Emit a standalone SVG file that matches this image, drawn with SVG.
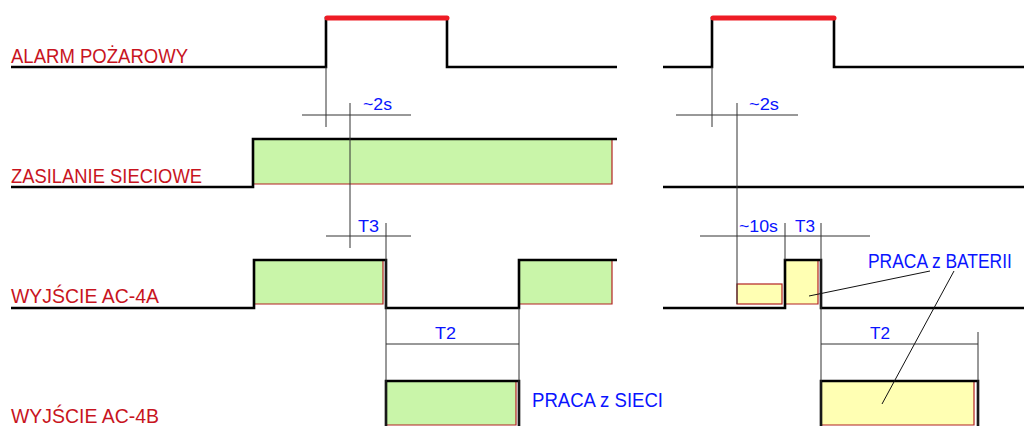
<svg xmlns="http://www.w3.org/2000/svg" width="1024" height="426" viewBox="0 0 1024 426">
<style>
.sig{fill:none;stroke:#000;stroke-width:2.6;stroke-linejoin:miter;stroke-linecap:butt}
.alarm{fill:none;stroke:#ee1c25;stroke-width:5;stroke-linecap:round}
.dim{fill:none;stroke:#333;stroke-width:1}
.lead{fill:none;stroke:#111;stroke-width:1}
.green{fill:#c9f5a9;stroke:none}
.yellow{fill:#ffffb3;stroke:none}
.edge{fill:none;stroke:#b22222;stroke-width:1.2}
.lbl{font-family:"Liberation Sans",Arial,sans-serif;font-size:21px;fill:#c8141e}
.blue{font-family:"Liberation Sans",Arial,sans-serif;font-size:17px;fill:#0a14ff}
.blueL{font-family:"Liberation Sans",Arial,sans-serif;font-size:21px;fill:#0a14ff}
</style>
<rect width="1024" height="426" fill="#fff"/>

<g id="alarm">
<text class="lbl" x="11" y="63" textLength="177" lengthAdjust="spacingAndGlyphs">ALARM POŻAROWY</text>
<polyline class="sig" points="11,67 326,67 326,18 447,18 447,67 617,67"/>
<line class="alarm" x1="327" y1="18" x2="447" y2="18"/>
<polyline class="sig" points="663,67 712,67 712,18 834,18 834,67 1024,67"/>
<line class="alarm" x1="713" y1="18" x2="834" y2="18"/>
</g>

<g id="zasilanie">
<text class="lbl" x="11" y="183" textLength="191" lengthAdjust="spacingAndGlyphs">ZASILANIE SIECIOWE</text>
<rect class="green" x="253" y="139" width="359" height="45"/>
<polyline class="edge" points="253,184 612,184 612,139"/>
<polyline class="sig" points="11,187 253,187 253,139 617,139"/>
<line class="sig" x1="663" y1="187" x2="1024" y2="187"/>
</g>

<g id="ac4a">
<text class="lbl" x="11" y="303" textLength="148" lengthAdjust="spacingAndGlyphs">WYJŚCIE AC-4A</text>
<rect class="green" x="254" y="260" width="129" height="44"/>
<polyline class="edge" points="254,304 383,304 383,260"/>
<rect class="green" x="519" y="260" width="93" height="44"/>
<polyline class="edge" points="519,304 612,304 612,260"/>
<polyline class="sig" points="11,308 254,308 254,260 386,260 386,308 519,308 519,260 617,260"/>
<rect class="yellow" x="737" y="284" width="45" height="20"/>
<rect class="edge" x="737" y="284" width="45" height="20"/>
<rect class="yellow" x="785" y="260" width="33" height="44"/>
<polyline class="edge" points="785,304 818,304 818,260"/>
<polyline class="sig" points="663,308 785,308 785,260 821,260 821,308 1024,308"/>
</g>

<g id="ac4b">
<text class="lbl" x="11" y="423" textLength="148" lengthAdjust="spacingAndGlyphs">WYJŚCIE AC-4B</text>
<rect class="green" x="386" y="381" width="130" height="44"/>
<polyline class="edge" points="386,425 516,425 516,381"/>
<polyline class="sig" points="386,428 386,381 519,381 519,428"/>
<rect class="yellow" x="821" y="381" width="153" height="44"/>
<polyline class="edge" points="821,425 974,425 974,381"/>
<polyline class="sig" points="821,428 821,381 978,381 978,428"/>
</g>

<g id="connectors">
<line class="dim" x1="326" y1="67" x2="326" y2="127"/>
<line class="dim" x1="302" y1="115" x2="411" y2="115"/>
<line class="dim" x1="350" y1="103" x2="350" y2="248"/>
<line class="dim" x1="326" y1="236" x2="411" y2="236"/>
<line class="dim" x1="386" y1="223" x2="386" y2="426"/>
<line class="dim" x1="386" y1="344" x2="519" y2="344"/>
<line class="dim" x1="519" y1="308" x2="519" y2="426"/>

<line class="dim" x1="712" y1="67" x2="712" y2="127"/>
<line class="dim" x1="676" y1="115" x2="798" y2="115"/>
<line class="dim" x1="737" y1="103" x2="737" y2="304"/>
<line class="dim" x1="700" y1="236" x2="870" y2="236"/>
<line class="dim" x1="785" y1="223" x2="785" y2="260"/>
<line class="dim" x1="821" y1="223" x2="821" y2="426"/>
<line class="dim" x1="821" y1="344" x2="978" y2="344"/>
<line class="dim" x1="978" y1="332" x2="978" y2="426"/>

<line class="lead" x1="809" y1="296" x2="930" y2="271"/>
<line class="lead" x1="954" y1="271" x2="882" y2="404"/>
</g>

<g id="labels">
<text class="blue" x="363" y="110" textLength="29" lengthAdjust="spacingAndGlyphs">~2s</text>
<text class="blue" x="749" y="110" textLength="30" lengthAdjust="spacingAndGlyphs">~2s</text>
<text class="blue" x="358" y="232" textLength="21" lengthAdjust="spacingAndGlyphs">T3</text>
<text class="blue" x="739" y="232" textLength="39" lengthAdjust="spacingAndGlyphs">~10s</text>
<text class="blue" x="795" y="232" textLength="20" lengthAdjust="spacingAndGlyphs">T3</text>
<text class="blue" x="435" y="339" textLength="21" lengthAdjust="spacingAndGlyphs">T2</text>
<text class="blue" x="870" y="339" textLength="20" lengthAdjust="spacingAndGlyphs">T2</text>
<text class="blueL" x="532" y="407" textLength="131" lengthAdjust="spacingAndGlyphs">PRACA z SIECI</text>
<text class="blueL" transform="translate(868,268) scale(0.83,1)" x="0" y="0">PRACA z BATERII</text>
</g>
</svg>
